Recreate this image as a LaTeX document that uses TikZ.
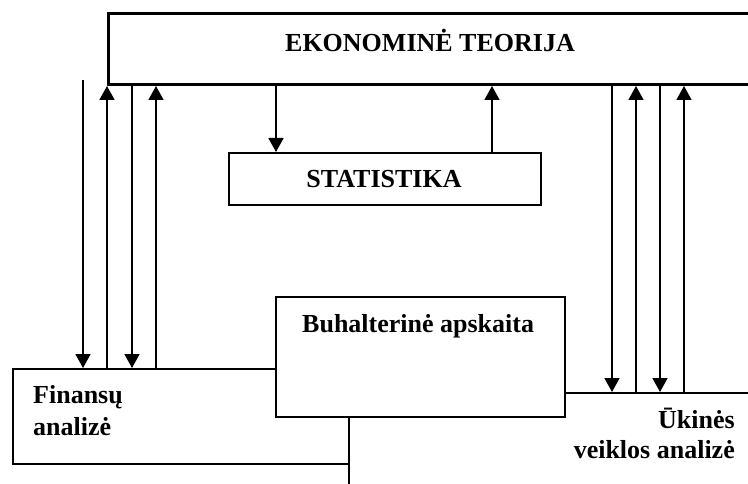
\documentclass[tikz,border=0pt]{standalone}
\usepackage{fontspec}
\setmainfont{Liberation Serif}
\usetikzlibrary{arrows.meta}
\tikzset{
  box/.style={draw, fill=white, line width=1.8pt, inner sep=0pt, anchor=north west},
  bigbox/.style={box, line width=3pt},
  arr/.style={line width=1.8pt, -{Triangle[width=15pt,length=14pt]}},
  lbl/.style={inner sep=0pt, font=\bfseries\fontsize{26}{31}\selectfont}
}
\begin{document}
\begin{tikzpicture}[x=1pt,y=-1pt]
\useasboundingbox (0,0) rectangle (748,484);
% boxes
\node[bigbox, minimum width=693pt, minimum height=71pt] (eko) at (107,12) {};
\node[box, minimum width=312pt, minimum height=52pt] (stat) at (228,152) {};
\node[box, minimum width=452pt, minimum height=150pt] (uki) at (348,392) {};
\node[box, minimum width=336pt, minimum height=95pt] (fin) at (12,368) {};
\node[box, minimum width=289pt, minimum height=120pt] (buh) at (275,296) {};
% x positions
\coordinate (s) at (83,80);
\foreach \n/\x in {a/107,b/132,c/156,d/276,e/492,f/612,g/636,h/660,i/684}
  \coordinate (x\n) at (\x,0);
% left connectors
\draw[arr] (s) -- (s |- fin.north);
\draw[arr] (xa |- fin.north) -- (xa |- eko.south);
\draw[arr] (xb |- eko.south) -- (xb |- fin.north);
\draw[arr] (xc |- fin.north) -- (xc |- eko.south);
% statistika
\draw[arr] (xd |- eko.south) -- (xd |- stat.north);
\draw[arr] (xe |- stat.north) -- (xe |- eko.south);
% right connectors
\draw[arr] (xf |- eko.south) -- (xf |- uki.north);
\draw[arr] (xg |- uki.north) -- (xg |- eko.south);
\draw[arr] (xh |- eko.south) -- (xh |- uki.north);
\draw[arr] (xi |- uki.north) -- (xi |- eko.south);
% texts
\node[lbl, anchor=base] (t1) at (430,52) {EKONOMINĖ TEORIJA};
\node[lbl, anchor=base] (t2) at (384,188) {STATISTIKA};
\node[lbl, anchor=base west] (t3) at (302,332) {Buhalterinė apskaita};
\node[lbl, anchor=base west, align=left, font=\bfseries\fontsize{26}{32}\selectfont] (t4) at (33,435) {Finansų\\analizė};
\node[lbl, anchor=base east, align=right, font=\bfseries\fontsize{26}{30}\selectfont] (t5) at (735,458) {Ūkinės\\veiklos analizė};
\end{tikzpicture}
\end{document}
